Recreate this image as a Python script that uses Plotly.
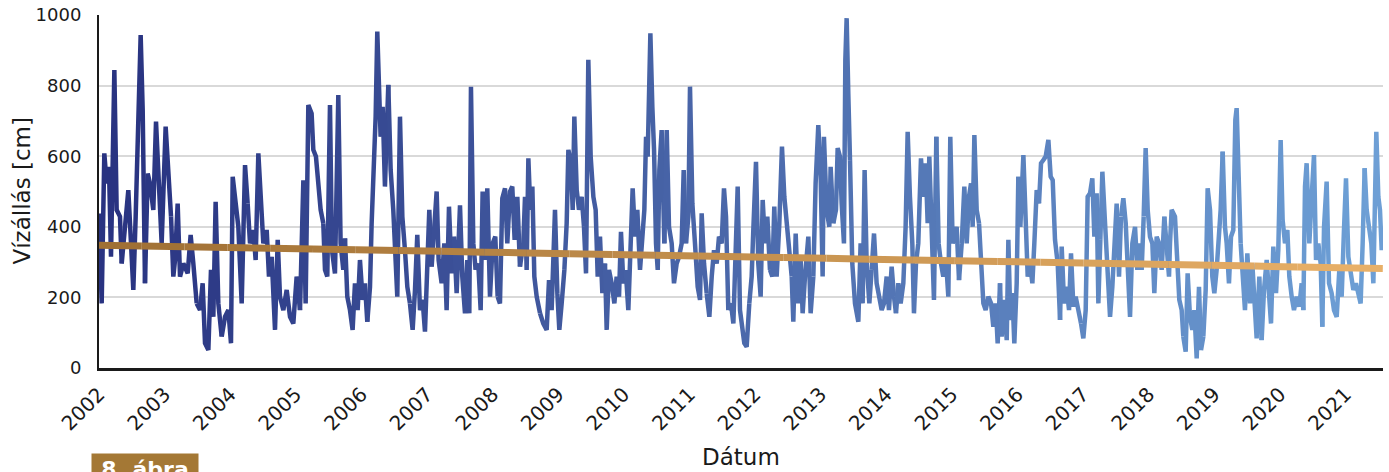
import numpy as np
import plotly.graph_objects as go

# ---- data (decimal year, water level in cm) ----
t = [
2002.000,2002.041,2002.081,2002.117,2002.152,2002.183,2002.234,2002.269,2002.320,2002.346,2002.396,2002.447,2002.488,2002.523,2002.559,2002.600,2002.635,2002.666,2002.701,2002.742,2002.777,2002.828,2002.869,2002.915,2002.955,
2003.016,2003.057,2003.098,2003.133,2003.159,2003.199,2003.235,2003.286,2003.352,2003.397,2003.438,2003.489,2003.540,2003.580,2003.616,2003.667,2003.707,2003.743,2003.778,2003.819,2003.870,2003.921,2003.972,
2004.012,2004.038,2004.073,2004.124,2004.175,2004.226,2004.266,2004.302,2004.353,2004.388,2004.429,2004.470,2004.505,2004.556,2004.591,2004.632,2004.683,2004.724,2004.759,2004.810,2004.861,2004.912,2004.962,
2005.013,2005.064,2005.115,2005.150,2005.191,2005.241,2005.267,2005.307,2005.343,2005.379,2005.419,2005.445,2005.480,2005.521,2005.551,2005.597,2005.648,2005.683,2005.724,2005.750,2005.785,2005.826,2005.866,2005.902,2005.943,2005.978,
2006.019,2006.054,2006.090,2006.131,2006.156,2006.181,2006.217,2006.242,2006.268,2006.293,2006.324,2006.359,2006.410,2006.446,2006.486,2006.517,2006.547,2006.588,2006.624,2006.664,2006.700,2006.740,2006.781,2006.817,2006.852,2006.893,2006.933,2006.969,
2007.005,2007.035,2007.071,2007.106,2007.147,2007.177,2007.223,2007.264,2007.299,2007.335,2007.376,2007.411,2007.452,2007.503,2007.538,2007.579,2007.614,2007.645,2007.670,2007.706,2007.741,2007.782,2007.818,2007.848,2007.884,2007.919,2007.960,
2008.001,2008.041,2008.077,2008.112,2008.148,2008.189,2008.224,2008.265,2008.300,2008.336,2008.377,2008.417,2008.468,2008.494,2008.519,2008.545,2008.575,2008.606,2008.636,2008.672,2008.723,2008.773,2008.824,2008.860,2008.900,2008.951,2008.987,
2009.017,2009.053,2009.094,2009.129,2009.155,2009.195,2009.221,2009.246,2009.282,2009.317,2009.358,2009.393,2009.424,2009.459,2009.495,2009.536,2009.571,2009.602,2009.637,2009.673,2009.713,2009.739,2009.774,2009.815,2009.856,2009.891,2009.927,2009.957,2009.993,
2010.029,2010.069,2010.105,2010.135,2010.171,2010.206,2010.247,2010.283,2010.313,2010.339,2010.364,2010.384,2010.405,2010.435,2010.461,2010.491,2010.517,2010.542,2010.577,2010.618,2010.654,2010.689,2010.730,2010.765,2010.806,2010.842,2010.882,2010.913,2010.948,2010.984,
2011.009,2011.045,2011.085,2011.126,2011.162,2011.187,2011.223,2011.263,2011.304,2011.340,2011.375,2011.416,2011.451,2011.492,2011.527,2011.558,2011.593,2011.634,2011.670,2011.705,2011.736,2011.771,2011.807,2011.837,2011.873,2011.913,2011.949,2011.974,
2012.015,2012.050,2012.086,2012.117,2012.152,2012.188,2012.228,2012.264,2012.294,2012.330,2012.371,2012.411,2012.447,2012.482,2012.523,2012.559,2012.584,2012.620,2012.660,2012.696,2012.726,2012.762,2012.813,2012.848,2012.889,2012.924,2012.965,
2013.001,2013.031,2013.051,2013.092,2013.133,2013.153,2013.194,2013.234,2013.260,2013.295,2013.321,2013.356,2013.377,2013.397,2013.422,2013.448,2013.483,2013.524,2013.575,2013.610,2013.641,2013.671,2013.702,2013.743,2013.778,2013.814,2013.854,2013.895,2013.931,2013.966,
2014.007,2014.042,2014.083,2014.119,2014.149,2014.185,2014.220,2014.261,2014.296,2014.327,2014.362,2014.398,2014.423,2014.454,2014.489,2014.530,2014.566,2014.601,2014.632,2014.657,2014.693,2014.728,2014.764,2014.799,2014.835,2014.870,2014.911,2014.947,2014.977,
2015.013,2015.074,2015.110,2015.151,2015.191,2015.227,2015.262,2015.293,2015.318,2015.344,2015.379,2015.415,2015.445,2015.481,2015.516,2015.557,2015.598,2015.633,2015.669,2015.699,2015.735,2015.760,2015.801,2015.837,2015.862,2015.893,2015.923,2015.953,2015.989,
2016.014,2016.045,2016.091,2016.126,2016.157,2016.192,2016.228,2016.258,2016.294,2016.329,2016.360,2016.396,2016.431,2016.472,2016.507,2016.538,2016.573,2016.614,2016.650,2016.675,2016.711,2016.751,2016.787,2016.817,2016.853,2016.888,2016.929,2016.970,
2017.005,2017.041,2017.071,2017.107,2017.142,2017.173,2017.208,2017.234,2017.264,2017.295,2017.336,2017.371,2017.412,2017.447,2017.478,2017.513,2017.549,2017.579,2017.615,2017.651,2017.681,2017.717,2017.752,2017.793,2017.828,2017.859,2017.894,2017.925,2017.955,2017.986,
2018.021,2018.057,2018.087,2018.123,2018.159,2018.199,2018.240,2018.276,2018.311,2018.326,2018.351,2018.402,2018.438,2018.468,2018.504,2018.529,2018.565,2018.595,2018.631,2018.666,2018.697,2018.733,2018.768,2018.799,2018.834,2018.870,2018.900,2018.936,2018.971,
2019.002,2019.037,2019.073,2019.098,2019.129,2019.164,2019.190,2019.225,2019.256,2019.291,2019.322,2019.342,2019.373,2019.403,2019.434,2019.469,2019.505,2019.546,2019.581,2019.622,2019.647,2019.688,2019.723,2019.759,2019.800,2019.835,2019.866,2019.901,2019.942,2019.977,
2020.013,2020.043,2020.079,2020.115,2020.145,2020.181,2020.216,2020.257,2020.298,2020.333,2020.359,2020.384,2020.409,2020.450,2020.486,2020.521,2020.552,2020.587,2020.623,2020.648,2020.674,2020.714,2020.750,2020.790,2020.826,2020.867,2020.907,2020.943,2020.978,
2021.009,2021.045,2021.080,2021.121,2021.161,2021.197,2021.232,2021.263,2021.293,2021.324,2021.359,2021.395,2021.426,2021.451,2021.471,2021.502,2021.527,2021.553,2021.570,
]
level_cm = [
438,183,608,523,570,315,844,448,429,296,400,504,353,221,429,769,943,731,240,551,523,448,698,485,353,
684,523,429,259,306,466,259,296,268,377,296,183,164,240,70,51,278,145,471,183,89,145,164,
70,542,485,400,183,575,466,353,391,306,608,485,353,391,259,315,108,363,202,164,221,145,126,
259,164,532,183,745,721,618,599,523,448,410,278,259,745,334,268,773,353,278,367,202,164,108,240,164,306,
193,240,131,230,410,523,712,953,825,655,740,514,802,561,448,278,202,712,429,334,230,183,108,221,377,164,193,103,
296,448,287,372,500,306,240,353,164,457,268,372,212,461,259,155,306,155,797,353,278,296,164,500,306,509,202,
353,372,202,183,481,509,353,500,514,363,485,287,353,485,278,594,448,514,259,202,155,126,108,249,164,448,212,
108,183,278,410,618,580,448,712,504,448,485,400,268,873,599,485,448,259,372,212,296,108,278,240,183,259,202,386,240,
278,164,353,509,372,448,278,391,448,655,599,882,948,740,618,353,278,561,674,353,674,400,353,240,296,315,353,561,353,429,
797,466,353,230,193,438,296,212,145,259,334,296,372,353,509,429,164,183,126,296,514,164,108,70,60,183,259,391,
584,296,202,476,353,429,278,259,457,259,410,627,485,410,334,259,131,381,183,306,155,259,372,155,259,523,688,
542,259,655,448,400,570,410,448,623,599,466,353,873,991,778,589,296,183,131,353,183,561,296,183,278,381,240,202,164,183,
259,164,287,202,155,240,183,240,400,669,485,353,155,296,353,594,485,580,410,599,334,193,655,353,296,259,306,202,655,
353,400,249,353,514,353,485,523,400,660,448,410,315,183,164,202,183,117,183,70,240,89,193,79,363,136,212,70,240,
542,400,603,391,259,296,240,353,504,466,580,589,599,646,542,532,363,296,136,344,183,230,164,325,174,202,164,126,
84,164,485,495,537,372,495,183,363,556,410,259,145,230,334,466,259,429,481,410,278,145,353,400,278,353,278,429,623,448,
372,353,212,372,353,278,429,353,259,353,448,429,259,193,164,89,46,268,145,108,164,27,230,51,89,221,509,448,259,
212,278,391,448,613,400,353,240,372,391,703,736,542,353,240,164,325,183,296,164,84,259,79,221,306,183,126,344,212,334,
646,419,353,391,259,202,164,202,174,240,164,514,580,353,485,603,306,353,296,117,400,528,240,212,164,145,278,202,391,
537,315,268,221,240,202,183,353,566,448,400,353,240,542,669,485,448,334,372,
]
tick_years = list(range(2002, 2022))
y_ticks = [0, 200, 400, 600, 800, 1000]
trend_t = [2002.0, 2021.57]
trend_v = [348, 282]

X_RANGE = [2002.0, 2021.573]
Y_RANGE = [0, 1000]

def lerp(c0, c1, f):
    return "rgb(%d,%d,%d)" % tuple(round(a + (b - a) * f) for a, b in zip(c0, c1))

fig = go.Figure()

# data line with gradient (split into consecutive chunks)
blue0, blue1 = (40, 50, 128), (110, 160, 214)
n = len(t)
n_seg = 60
edges = np.linspace(0, n - 1, n_seg + 1).astype(int)
t0, t1 = t[0], t[-1]
for i in range(n_seg):
    a, b = edges[i], edges[i + 1]
    seg_t = t[a:b + 1]
    seg_v = level_cm[a:b + 1]
    f = ((seg_t[0] + seg_t[-1]) / 2 - t0) / (t1 - t0)
    fig.add_trace(go.Scatter(x=seg_t, y=seg_v, mode="lines",
                             line=dict(color=lerp(blue0, blue1, f), width=4.5),
                             hoverinfo="skip", showlegend=False))

# trend line with gradient
br0, br1 = (160, 112, 52), (232, 176, 104)
slope = (trend_v[1] - trend_v[0]) / (trend_t[1] - trend_t[0])
k = 30
tt = np.linspace(trend_t[0], trend_t[1], k + 1)
for i in range(k):
    xs = [tt[i], tt[i + 1]]
    ys = [trend_v[0] + slope * (x - trend_t[0]) for x in xs]
    fig.add_trace(go.Scatter(x=xs, y=ys, mode="lines",
                             line=dict(color=lerp(br0, br1, i / (k - 1)), width=7),
                             hoverinfo="skip", showlegend=False))

FONT = "DejaVu Sans"
fig.update_layout(
    width=1389, height=472,
    margin=dict(l=99, r=6, t=15, b=104),
    plot_bgcolor="white", paper_bgcolor="white",
    showlegend=False,
    font=dict(family=FONT, color="#1a1a1a"),
    xaxis=dict(range=X_RANGE, tickvals=tick_years, ticktext=[str(y) for y in tick_years],
               tickangle=-45, tickfont=dict(size=20, family=FONT, color="#1a1a1a"),
               showgrid=False, zeroline=False, showline=True, linecolor="#1a1a1a",
               linewidth=2.5, ticks="", ticklabelstandoff=4, automargin=False),
    yaxis=dict(range=Y_RANGE, tickvals=y_ticks, ticktext=[str(v) for v in y_ticks],
               tickfont=dict(size=18, family=FONT, color="#1a1a1a"),
               showgrid=True, gridcolor="#d9d9d9", gridwidth=1.5, zeroline=False,
               showline=True, linecolor="#1a1a1a", linewidth=2, ticks="",
               ticklabelstandoff=12, automargin=False),
    annotations=[
        dict(text="Vízállás [cm]", textangle=-90, xref="paper", yref="paper",
             x=(21 - 99) / 1284, y=0.5, xanchor="center", yanchor="middle",
             showarrow=False, font=dict(size=23, family=FONT, color="#1a1a1a")),
        dict(text="Dátum", xref="paper", yref="paper",
             x=0.5, y=(368 - 457) / 353, xanchor="center", yanchor="middle",
             showarrow=False, font=dict(size=23, family=FONT, color="#1a1a1a")),
        dict(text="<b>8. ábra</b>", xref="paper", yref="paper",
             x=(91 - 99) / 1284, y=(368 - 453) / 353, xanchor="left", yanchor="top",
             showarrow=False, bgcolor="#a47835", borderpad=4, width=98, height=22,
             valign="middle", align="center",
             font=dict(size=22, family=FONT, color="white")),
    ],
)

# remove the default page margin so the figure sits at the window's top-left corner
fig.write_html("out.html",
               config={"displayModeBar": False},
               post_script="document.body.style.margin='0px';document.body.style.overflow='hidden';")
